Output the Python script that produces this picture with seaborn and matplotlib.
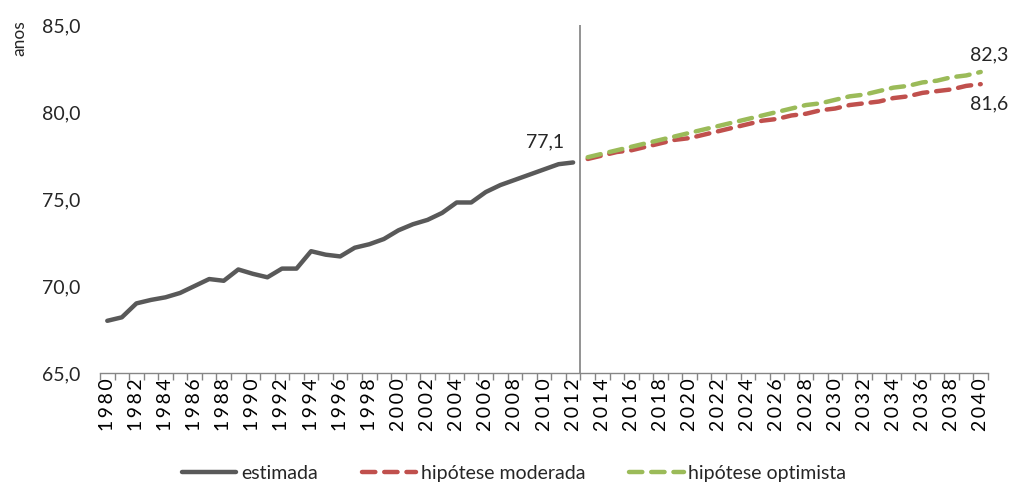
import matplotlib
matplotlib.use("Agg")
import matplotlib.pyplot as plt
import seaborn as sns
import pandas as pd
import numpy as np

years_est = list(range(1980, 2013))
estimada = [68.0, 68.2, 69.0, 69.2, 69.35, 69.6, 70.0, 70.4, 70.3, 70.95,
            70.7, 70.5, 71.0, 71.0, 72.0, 71.8, 71.7, 72.2, 72.4, 72.7,
            73.2, 73.55, 73.8, 74.2, 74.8, 74.8, 75.4, 75.8, 76.1, 76.4,
            76.7, 77.0, 77.1]

years_proj = list(range(2013, 2041))
moderada = [77.3, 77.5, 77.7, 77.8, 78.0, 78.2, 78.4, 78.5, 78.7, 78.9,
            79.1, 79.3, 79.5, 79.6, 79.8, 79.9, 80.1, 80.2, 80.4, 80.5,
            80.6, 80.8, 80.9, 81.1, 81.2, 81.3, 81.5, 81.6]
optimista = [77.4, 77.6, 77.8, 78.0, 78.2, 78.4, 78.6, 78.8, 79.0, 79.2,
             79.4, 79.6, 79.8, 80.0, 80.2, 80.4, 80.5, 80.7, 80.9, 81.0,
             81.2, 81.4, 81.5, 81.7, 81.8, 82.0, 82.1, 82.3]

series_names = ["estimada", "hipótese moderada", "hipótese optimista"]
colors = ["#595959", "#C0504D", "#9BBB59"]
yticks = [65.0, 70.0, 75.0, 80.0, 85.0]
xtick_years = list(range(1980, 2041, 2))

sns.set_theme(style="white")
plt.rcParams["font.family"] = ["Lato", "DejaVu Sans"]

fig = plt.figure(figsize=(10.14, 4.84), dpi=100)
ax = fig.add_axes([100 / 1014, 1 - 373 / 484, 888 / 1014, 348 / 484])

df_est = pd.DataFrame({"ano": years_est, "valor": estimada})
df_mod = pd.DataFrame({"ano": years_proj, "valor": moderada})
df_opt = pd.DataFrame({"ano": years_proj, "valor": optimista})

sns.lineplot(data=df_est, x="ano", y="valor", ax=ax, color=colors[0], lw=3.2,
             label=series_names[0], solid_capstyle="round")
sns.lineplot(data=df_mod, x="ano", y="valor", ax=ax, color=colors[1], lw=3.2,
             label=series_names[1], dashes=False, linestyle=(0, (3, 2)),
             dash_capstyle="round")
sns.lineplot(data=df_opt, x="ano", y="valor", ax=ax, color=colors[2], lw=3.2,
             label=series_names[2], dashes=False, linestyle=(0, (3, 2)),
             dash_capstyle="round")

ax.set_xlim(1979.5, 2040.5)
ax.set_ylim(65, 85)
ax.axvline(2012.5, color="#808080", lw=1.2, zorder=1)

ax.set_yticks(yticks)
ax.set_yticklabels([f"{v:.1f}".replace(".", ",") for v in yticks])
ax.set_xticks(xtick_years)
ax.set_xticklabels(["\u2009".join(str(y)) for y in xtick_years], rotation=90)
ax.set_xticks(np.arange(1979.5, 2041, 1), minor=True)
ax.tick_params(axis="x", which="major", length=0, pad=4, labelsize=14,
               colors="black")
ax.tick_params(axis="x", which="minor", length=5, width=1, color="#868686",
               direction="out", bottom=True)
ax.tick_params(axis="y", length=0, pad=14, labelsize=14)

for s in ["top", "right", "left"]:
    ax.spines[s].set_visible(False)
ax.spines["bottom"].set_color("#868686")
ax.spines["bottom"].set_linewidth(1)
ax.set_xlabel("")
ax.set_ylabel("")
ax.grid(False)

ax.annotate("77,1", xy=(years_est[-1], estimada[-1]), xytext=(-20, 15),
            textcoords="offset points", ha="center", va="center", fontsize=14)
ax.annotate("82,3", xy=(years_proj[-1], optimista[-1]), xytext=(6, 12),
            textcoords="offset points", ha="center", va="center", fontsize=14)
ax.annotate("81,6", xy=(years_proj[-1], moderada[-1]), xytext=(6, -14),
            textcoords="offset points", ha="center", va="center", fontsize=14)

fig.text(19 / 1014, 1 - 20 / 484, "anos", rotation=90, ha="center", va="top",
         fontsize=12.5)

leg = ax.legend(loc="center", bbox_to_anchor=(0.507, 0.022),
                bbox_transform=fig.transFigure, ncol=3, frameon=False,
                fontsize=14, handlelength=2.8, handletextpad=0.25,
                columnspacing=2.25)

fig.savefig("out.png", dpi=100)
